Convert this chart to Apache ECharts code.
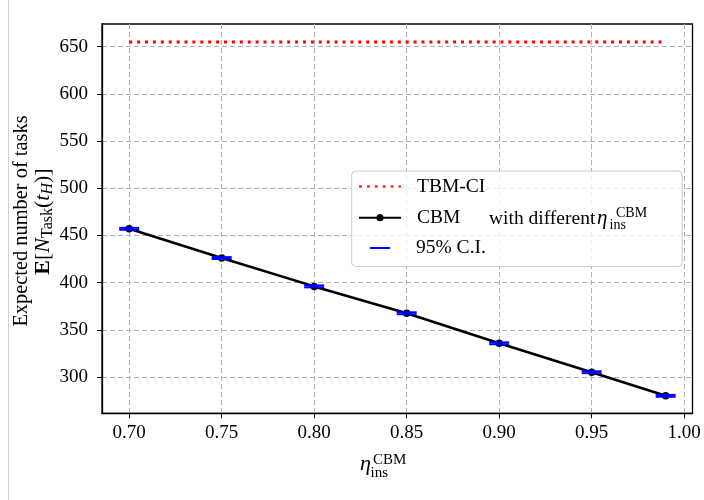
<!DOCTYPE html>
<html><head><meta charset="utf-8">
<script src="https://cdn.jsdelivr.net/npm/echarts@6/dist/echarts.min.js"></script>
<style>html,body{margin:0;padding:0;background:#fff}#c{width:704px;height:500px}</style>
</head><body><div id="c"></div>
<script>
// ---- data ----
const etaValues = [0.70, 0.75, 0.80, 0.85, 0.90, 0.95, 0.99];
const cbmTasks  = [457, 426, 396, 367.5, 335.7, 305, 280];
const ciLower   = [456, 425, 395, 366.5, 334.7, 304, 279];
const ciUpper   = [458, 427, 397, 368.5, 336.7, 306, 281];
const tbmTasks  = [655, 655, 655, 655, 655, 655, 655];
const xTicks = [0.70, 0.75, 0.80, 0.85, 0.90, 0.95, 1.00];
const yTicks = [300, 350, 400, 450, 500, 550, 600, 650];

const SERIF = '"Liberation Serif","Times New Roman",serif';
const chart = echarts.init(document.getElementById('c'), null, {renderer:'canvas'});

const pair = (xs, ys) => xs.map((x, i) => [x, ys[i]]);

const option = {
  animation: false,
  backgroundColor: '#fff',
  grid: {left: 102, right: 11.5, top: 24, bottom: 86.7, show: true,
         borderColor: '#000', borderWidth: 1.3, backgroundColor: 'transparent'},
  xAxis: {
    type: 'value', min: 0.6853, max: 1.0045, splitNumber: 6,
    axisLine: {show: true, lineStyle: {color: '#000', width: 1.3}},
    axisTick: {show: true, length: 5, lineStyle: {color: '#000', width: 1}, customValues: xTicks},
    axisLabel: {customValues: xTicks, formatter: v => Number(v).toFixed(2), color: '#000',
                fontFamily: SERIF, fontSize: 19, margin: 10},
    splitLine: {show: true, lineStyle: {color: '#b0b0b0', width: 1, type: [5, 3]}}
  },
  yAxis: {
    type: 'value', min: 261.5, max: 674.05, splitNumber: 8,
    axisLine: {show: true, lineStyle: {color: '#000', width: 1.3}},
    axisTick: {show: true, length: 5, lineStyle: {color: '#000', width: 1}, customValues: yTicks},
    axisLabel: {customValues: yTicks, formatter: v => String(Math.round(v)), color: '#000',
                fontFamily: SERIF, fontSize: 19, margin: 14},
    splitLine: {show: true, lineStyle: {color: '#b0b0b0', width: 1, type: [5, 3]}}
  },
  legend: [
    {
      data: [{name: 'TBM-CI', itemStyle: {opacity: 0}}, 'CBM'], orient: 'vertical', left: 358, top: 176.5,
      itemWidth: 42, itemHeight: 9, itemGap: 11.2, padding: 0,
      textStyle: {fontFamily: SERIF, fontSize: 19.5, color: '#000', padding: [0, 0, 0, 11]},
      z: 20
    },
    {
      data: [{name: '95% C.I.', icon: 'rect', itemStyle: {color: '#0000ff', opacity: 1}}],
      orient: 'vertical', left: 370, top: 238,
      itemWidth: 20, itemHeight: 2, padding: 0,
      textStyle: {fontFamily: SERIF, fontSize: 19.5, color: '#000', padding: [0, 0, 0, 21]},
      z: 20
    }
  ],
  series: [
    {
      name: 'TBM-CI', type: 'line', data: pair(etaValues, tbmTasks), symbol: 'none',
      lineStyle: {color: '#ff0000', width: 3, type: [3, 4.9], cap: 'butt'},
      itemStyle: {color: '#ff0000'}, z: 3
    },
    {
      name: 'CBM', type: 'line', data: pair(etaValues, cbmTasks), symbol: 'circle', symbolSize: 7.5,
      lineStyle: {color: '#000', width: 2.6}, itemStyle: {color: '#000'}, z: 3
    },
    {
      name: '95% C.I.', type: 'scatter', data: pair(etaValues, ciLower), symbol: 'rect',
      symbolSize: [20, 2], itemStyle: {color: '#0000ff', opacity: 1}, z: 4
    },
    {
      name: '95% C.I.', type: 'scatter', data: pair(etaValues, ciUpper), symbol: 'rect',
      symbolSize: [20, 2], itemStyle: {color: '#0000ff', opacity: 1}, z: 4
    }
  ],
  graphic: [
    {type: 'line', shape: {x1: 8.5, y1: 0, x2: 8.5, y2: 500}, style: {stroke: '#d0d0d0', lineWidth: 1}, z: 1},
    {type: 'rect', shape: {x: 351.7, y: 171, width: 330.5, height: 95.5, r: 4},
     style: {fill: 'rgba(255,255,255,0.8)', stroke: '#cccccc', lineWidth: 1}, z: 10},
    // legend extra text: "with different η_ins^CBM"
    {type: 'text', x: 489, y: 218.6, z: 21,
     style: {text: 'with different', fontFamily: SERIF, fontSize: 19.5, fill: '#000', verticalAlign: 'middle'}},
    {type: 'text', x: 597, y: 218.6, z: 21,
     style: {text: 'η', fontFamily: SERIF, fontStyle: 'italic', fontSize: 21, fill: '#000', verticalAlign: 'middle'}},
    {type: 'text', x: 616, y: 213.5, z: 21,
     style: {text: 'CBM', fontFamily: SERIF, fontSize: 14, fill: '#000', verticalAlign: 'middle'}},
    {type: 'text', x: 609.5, y: 225.5, z: 21,
     style: {text: 'ins', fontFamily: SERIF, fontSize: 14, fill: '#000', verticalAlign: 'middle'}},
    // x-axis title
    {type: 'text', x: 360, y: 464.5, z: 21,
     style: {text: 'η', fontFamily: SERIF, fontStyle: 'italic', fontSize: 22, fill: '#000', verticalAlign: 'middle'}},
    {type: 'text', x: 373, y: 460, z: 21,
     style: {text: 'CBM', fontFamily: SERIF, fontSize: 15, fill: '#000', verticalAlign: 'middle'}},
    {type: 'text', x: 370.5, y: 473, z: 21,
     style: {text: 'ins', fontFamily: SERIF, fontSize: 15, fill: '#000', verticalAlign: 'middle'}},
    // y-axis title
    {type: 'group', x: 22, y: 221, rotation: Math.PI / 2, z: 21, children: [
      {type: 'text', x: 0, y: 0,
       style: {text: 'Expected number of tasks', fontFamily: SERIF, fontSize: 20.4, fill: '#000',
               align: 'center', verticalAlign: 'middle'}}
    ]},
    {type: 'group', x: 48, y: 221.5, rotation: Math.PI / 2, z: 21, children: [
      {type: 'text', x: 0, y: 0,
       style: {text: '{b|E}{n|[}{i|N}{s|Task}{n|(}{i|t}{si|H}{n|)]}', align: 'center', verticalAlign: 'middle',
               fontFamily: SERIF, fill: '#000',
               rich: {
                 b: {fontFamily: SERIF, fontWeight: 'bold', fontSize: 22, lineHeight: 22, verticalAlign: 'top'},
                 n: {fontFamily: SERIF, fontSize: 22, lineHeight: 22, verticalAlign: 'top'},
                 i: {fontFamily: SERIF, fontStyle: 'italic', fontSize: 22, lineHeight: 22, verticalAlign: 'top'},
                 s: {fontFamily: SERIF, fontSize: 16, lineHeight: 32, verticalAlign: 'middle'},
                 si: {fontFamily: SERIF, fontStyle: 'italic', fontSize: 16, lineHeight: 32, verticalAlign: 'middle'}
               }}}
    ]}
  ]
};
chart.setOption(option);
</script>
</body></html>
